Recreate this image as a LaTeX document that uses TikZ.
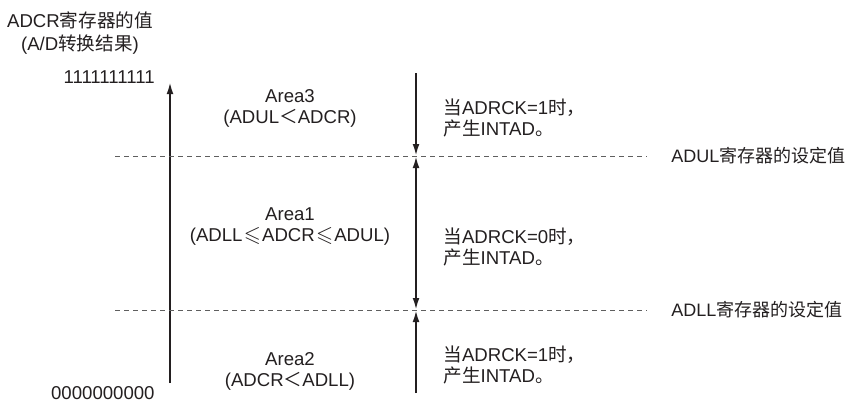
\documentclass[tikz,border=0pt]{standalone}
\usepackage{fontspec}
\setmainfont{Liberation Sans}
\newfontfamily\cjk{Noto Sans CJK SC}
\usepackage{amssymb}
\usetikzlibrary{arrows.meta}
\definecolor{ADInk}{RGB}{35,31,32}
\definecolor{ADDash}{RGB}{95,95,95}
\newcommand{\zlt}{{\cjk ＜}}
\newcommand{\zle}{\makebox[1.05em]{\fontsize{11}{11}\selectfont$\leqslant$}}

\begin{document}
\begin{tikzpicture}[x=0.5pt, y=-0.5pt,
          >={Latex[length=6pt,width=3.4pt]},
          lbl/.style={font=\fontsize{9.3}{10.5}\selectfont, text=ADInk,
                      inner sep=0pt, align=center},
          txt/.style={lbl, align=left, anchor=west},
          arr/.style={->, draw=ADInk, line width=1pt},
          lim/.style={draw=ADDash, dash pattern=on 2.5pt off 2pt, line width=0.4pt}
        ]
        \useasboundingbox (0,0) rectangle (849,403);

        % vertical axis
        \node[lbl, font=\fontsize{9.3}{11.5}\selectfont]
              (ylab) at (80,33) {ADCR{\cjk 寄存器的值}\\(A/D{\cjk 转换结果})};
        \node[lbl, anchor=east] (vmax) at (155,77)  {1111111111};
        \node[lbl, anchor=east] (vmin) at (155,393) {0000000000};
        \coordinate (axB) at (170,383);
        \coordinate (axT) at (170,82);
        \draw[arr] (axB) -- (axT);

        % limit registers
        \foreach \n/\y/\t in {ul/156/ADUL, ll/310/ADLL}{
          \coordinate (\n-l) at (115,\y);
          \coordinate (\n-r) at (647,\y);
          \coordinate (\n-a) at (416,\y);
          \node[txt, font=\fontsize{9}{10.5}\selectfont]
                (\n-lab) at (671,\y) {\t{\cjk 寄存器的设定值}};
          \draw[lim] (\n-l) -- (\n-r);
        }

        % areas
        \node[lbl] (a3) at (290,108) {Area3\\(ADUL\zlt ADCR)};
        \node[lbl] (a1) at (290,227) {Area1\\(ADLL\zle ADCR\zle ADUL)};
        \node[lbl] (a2) at (290,371) {Area2\\(ADCR\zlt ADLL)};

        % interrupt conditions
        \coordinate (rTop) at (416,73);
        \coordinate (rBot) at (416,393);
        \draw[arr] (rTop) -- (ul-a);
        \draw[arr, <->] (ul-a) -- (ll-a);
        \draw[arr] (rBot) -- (ll-a);

        \node[txt] (i3) at (443,118) {{\cjk 当}ADRCK=1{\cjk 时，}\\{\cjk 产生}INTAD{\cjk 。}};
        \node[txt] (i1) at (443,247) {{\cjk 当}ADRCK=0{\cjk 时，}\\{\cjk 产生}INTAD{\cjk 。}};
        \node[txt] (i2) at (443,365) {{\cjk 当}ADRCK=1{\cjk 时，}\\{\cjk 产生}INTAD{\cjk 。}};
      \end{tikzpicture}
\end{document}
